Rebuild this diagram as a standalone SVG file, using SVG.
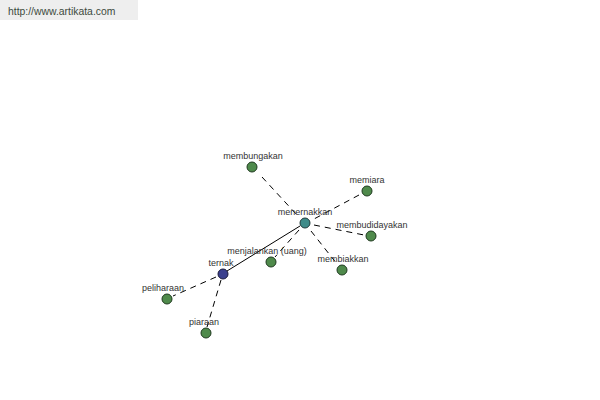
<svg xmlns="http://www.w3.org/2000/svg" width="600" height="400" viewBox="0 0 600 400">
<style>
text{font-family:"Liberation Sans",Arial,sans-serif;font-size:9px;fill:#333;text-anchor:middle}
.d{stroke:#000;stroke-width:1;stroke-dasharray:6,5;fill:none}
.s{stroke:#000;stroke-width:1;fill:none}
.g{fill:#4f8a4b;stroke:#1f3a1f;stroke-width:1}
.c{fill:#3f8c8a;stroke:#1f3a3a;stroke-width:1}
.b{fill:#3b408e;stroke:#1a1a3a;stroke-width:1}
</style>
<rect x="0" y="0" width="138" height="20" fill="#eeeeee"/>
<text x="8" y="15" style="font-size:10.4px;text-anchor:start;fill:#3d4a3d">http://www.artikata.com</text>
<g id="connectors">
<line class="d" x1="262" y1="177" x2="297" y2="215"/>
<line class="d" x1="359" y1="195" x2="314" y2="219"/>
<line class="d" x1="314" y1="225" x2="364" y2="235"/>
<line class="d" x1="311" y1="231" x2="337" y2="264"/>
<line class="d" x1="299" y1="230" x2="275" y2="257"/>
<line class="s" x1="227" y1="271" x2="300" y2="226"/>
<line class="d" x1="216" y1="277" x2="173" y2="296"/>
<line class="d" x1="221" y1="280" x2="207" y2="327"/>
</g>
<g id="membungakan"><circle class="g" cx="252" cy="167" r="5"/><text x="253" y="159">membungakan</text></g>
<g id="memiara"><circle class="g" cx="367" cy="191" r="5"/><text x="367" y="183">memiara</text></g>
<g id="menernakkan"><circle class="c" cx="305" cy="223" r="5"/><text x="305" y="215">menernakkan</text></g>
<g id="membudidayakan"><circle class="g" cx="371" cy="236" r="5"/><text x="372" y="228">membudidayakan</text></g>
<g id="menjalankan"><circle class="g" cx="271" cy="262" r="5"/><text x="267" y="254">menjalankan (uang)</text></g>
<g id="membiakkan"><circle class="g" cx="342" cy="270" r="5"/><text x="343" y="262">membiakkan</text></g>
<g id="ternak"><circle class="b" cx="223" cy="274" r="5"/><text x="221" y="266">ternak</text></g>
<g id="peliharaan"><circle class="g" cx="167" cy="299" r="5"/><text x="163" y="291">peliharaan</text></g>
<g id="piaraan"><circle class="g" cx="206" cy="333" r="5"/><text x="204" y="325">piaraan</text></g>
</svg>
